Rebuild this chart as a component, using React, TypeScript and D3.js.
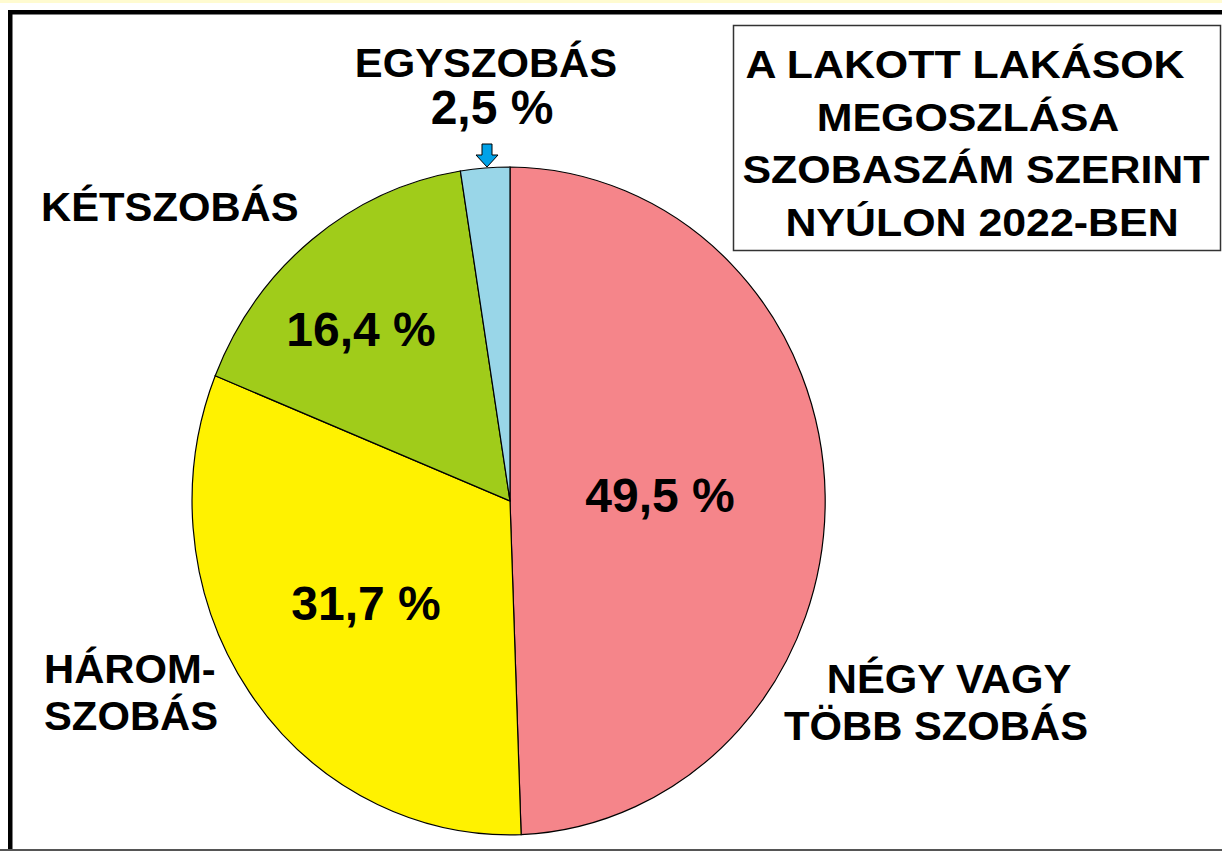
import React from "react";
import * as d3 from "d3";

const categories = ["NÉGY VAGY TÖBB SZOBÁS", "HÁROMSZOBÁS", "KÉTSZOBÁS", "EGYSZOBÁS"];
const values = [49.5, 31.7, 16.4, 2.5];
const sliceColors = ["#F5858A", "#FFF200", "#A0CC1A", "#99D6E8"];
const labelLines = [["NÉGY VAGY", "TÖBB SZOBÁS"], ["HÁROM-", "SZOBÁS"], ["KÉTSZOBÁS"], ["EGYSZOBÁS"]];
const titleLines = ["A LAKOTT LAKÁSOK", "MEGOSZLÁSA", "SZOBASZÁM SZERINT", "NYÚLON 2022-BEN"];

const W = 1222;
const H = 851;
const FONT = "'Liberation Sans', Arial, sans-serif";

// layout
const cx = 510, cy = 501, rx = 318, ry = 334;
const labelPos = [
  { xs: [949, 936], y: 693, anchor: "middle", dy: 47 },
  { xs: [44, 44], y: 683, anchor: "start", dy: 47 },
  { xs: [41], y: 221, anchor: "start", dy: 47 },
  { xs: [486], y: 77, anchor: "middle", dy: 47 },
];
const valuePos = [
  { x: 660, y: 512 },
  { x: 366, y: 620 },
  { x: 361, y: 346 },
  { x: 492, y: 124 },
];
const titleX = [965, 968, 976, 982];

function T({ x, y, size, sx = 1, anchor = "start", children }: any) {
  return (
    <text
      transform={`translate(${x},${y}) scale(${sx},1)`}
      fontFamily={FONT}
      fontWeight="bold"
      fontSize={size}
      textAnchor={anchor}
      fill="#000"
    >
      {children}
    </text>
  );
}

export default function App() {
  const pie = d3.pie<number>().sort(null).startAngle(0).endAngle(2 * Math.PI);
  const arcs = pie(values);
  const arc = d3.arc<d3.PieArcDatum<number>>().innerRadius(0).outerRadius(1);
  const fmt = (v: number) => v.toFixed(1).replace(".", ",") + " %";

  return (
    <svg
      width={W}
      height={H}
      style={{ position: "absolute", left: 0, top: 0, background: "#fff" }}
    >
      <rect x={0} y={0} width={W} height={3} fill="#FFFBD0" />
      {/* outer frame */}
      <rect x={10.25} y={12.25} width={W + 20} height={H + 20} fill="none" stroke="#000" strokeWidth={4.5} />
      <line x1={0} x2={W} y1={850} y2={850} stroke="#555" strokeWidth={2} />

      {/* pie */}
      <g transform={`translate(${cx},${cy}) scale(${rx},${ry})`}>
        {arcs.map((a, i) => (
          <path
            key={categories[i]}
            d={arc(a) as string}
            fill={sliceColors[i]}
            stroke="#000"
            strokeWidth={1.2}
            vectorEffect="non-scaling-stroke"
          />
        ))}
      </g>

      {/* arrow to small slice */}
      <path
        d="M482,144 L492,144 L492,155 L498,155 L487,167 L476,155 L482,155 Z"
        fill="#00A2E8"
        stroke="#000"
        strokeWidth={1}
      />

      {/* category labels */}
      {labelLines.map((lines, i) =>
        lines.map((ln, j) => (
          <T
            key={categories[i] + j}
            x={labelPos[i].xs[j]}
            y={labelPos[i].y + j * labelPos[i].dy}
            size={40}
            sx={1.045}
            anchor={labelPos[i].anchor}
          >
            {ln}
          </T>
        ))
      )}

      {/* value labels */}
      {values.map((v, i) => (
        <T key={"v" + i} x={valuePos[i].x} y={valuePos[i].y} size={48} sx={1.0} anchor="middle">
          {fmt(v)}
        </T>
      ))}

      {/* title box */}
      <rect x={733.5} y={25.5} width={487} height={225} fill="#fff" stroke="#333" strokeWidth={1.5} />
      {titleLines.map((ln, i) => (
        <T key={ln} x={titleX[i]} y={78 + i * 52.7} size={39} sx={1.1} anchor="middle">
          {ln}
        </T>
      ))}
    </svg>
  );
}
